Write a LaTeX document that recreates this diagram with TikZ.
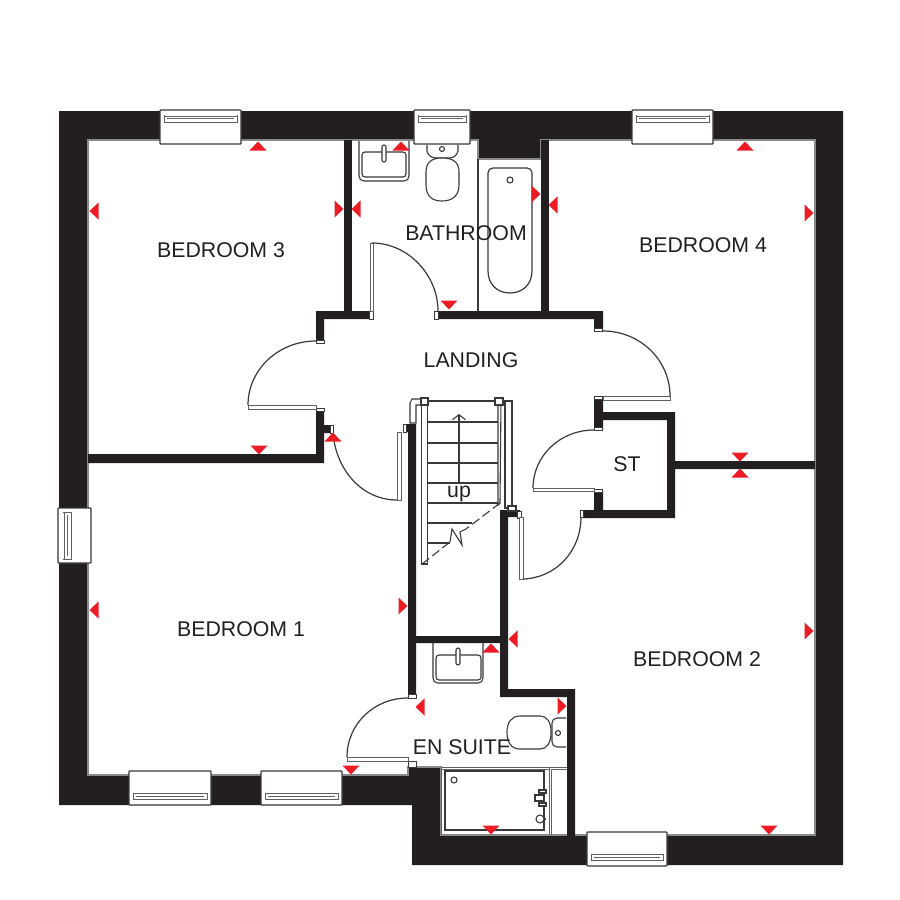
\documentclass[tikz,border=0pt]{standalone}
\usepackage{fontspec}
\setmainfont{Liberation Sans}
\usetikzlibrary{arrows.meta}
\definecolor{wallc}{HTML}{231F20}
\definecolor{redmark}{HTML}{ED1C24}
\definecolor{edgec}{HTML}{8A8A8C}
\definecolor{linec}{HTML}{3A3839}
\tikzset{
  wall/.style={fill=wallc,draw=none},
  fine/.style={draw=linec,line width=1.1pt},
  glaze/.style={draw=linec!80,line width=0.8pt,fill=white},
  thin line/.style={draw=linec,line width=1.2pt,fill=white},
  leaf/.style={draw=linec,line width=1.1pt,fill=white},
  swing/.style={draw=linec,line width=1.2pt},
  label/.style={font=\fontsize{21.3}{24}\selectfont,text=wallc,inner sep=0pt},
}
\newcommand{\triU}[2]{\fill[redmark] ({#1-8.5},{#2+4.5}) -- ({#1+8.5},{#2+4.5}) -- (#1,{#2-4.5}) -- cycle;}
\newcommand{\triD}[2]{\fill[redmark] ({#1-8.5},{#2-4.5}) -- ({#1+8.5},{#2-4.5}) -- (#1,{#2+4.5}) -- cycle;}
\newcommand{\triL}[2]{\fill[redmark] ({#1+4.5},{#2-8.5}) -- ({#1+4.5},{#2+8.5}) -- ({#1-4.5},#2) -- cycle;}
\newcommand{\triR}[2]{\fill[redmark] ({#1-4.5},{#2-8.5}) -- ({#1-4.5},{#2+8.5}) -- ({#1+4.5},#2) -- cycle;}
% horizontal window: x, width, outer y, direction (1 = inward is down, -1 = inward is up)
\newcommand{\hwin}[4]{\begin{scope}[shift={(#1,#3)},yscale=#4]
  \draw[thin line,rounded corners=0.8pt] (0,0) rectangle (#2,34);
  \draw[glaze] (4,6) rectangle ({#2-4},12);
  \draw[glaze] (7,8.6) -- ({#2-7},8.6);
  \draw[glaze] (4,12) -- (4,5) ({#2-4},12) -- ({#2-4},5);
\end{scope}}
\begin{document}
\begin{tikzpicture}[x=1pt,y=-1pt]
\useasboundingbox (0,0) rectangle (900,900);
\fill[white] (0,0) rectangle (900,900);
% shell
\fill[wall] (59,111) -- (843,111) -- (843,865) -- (412,865) -- (412,805) -- (59,805) -- cycle;
\filldraw[fill=white,draw=edgec,line width=1.4pt]
  (88,140) -- (478,140) -- (478,159) -- (541,159) -- (541,140) -- (815,140) -- (815,835)
  -- (441,835) -- (441,767) -- (408,767) -- (408,775) -- (88,775) -- cycle;
% interior walls
\fill[wall] (344,140) rectangle (352,319);
\fill[wall] (541,140) rectangle (549,319);
\fill[wall] (316,311) -- (369,311) -- (369,319) -- (324,319) -- (324,341) -- (316,341) -- cycle;
\fill[wall] (438,311) -- (603,311) -- (603,331) -- (594,331) -- (594,319) -- (438,319) -- cycle;
\fill[wall] (316,411) -- (324,411) -- (324,425) -- (333,425) -- (333,433) -- (324,433) -- (324,463)
  -- (88,463) -- (88,454) -- (316,454) -- cycle;
\fill[wall] (403,424) -- (416,424) -- (416,636) -- (500,636) -- (500,510) -- (520,510) -- (520,517)
  -- (508,517) -- (508,689) -- (575,689) -- (575,836) -- (567,836) -- (567,697) -- (500,697)
  -- (500,643) -- (416,643) -- (416,696) -- (408,696) -- (408,432) -- (403,432) -- cycle;
\fill[wall] (594,398) -- (603,398) -- (603,412) -- (675,412) -- (675,461) -- (815,461) -- (815,469)
  -- (675,469) -- (675,518) -- (583,518) -- (583,510) -- (594,510) -- (594,491) -- (603,491)
  -- (603,510) -- (667,510) -- (667,420) -- (603,420) -- (603,430) -- (594,430) -- cycle;
% door jambs
\foreach \jx/\jy/\jw/\jh in {369/311/4/8,434/311/4/8,316/340/8/3,316/408/8/3,330/425/3/8,403/424/3/8,
  594/328/8/3,594/396/8/3,594/427/8/3,594/489/8/3,517/511/4/7,580/510/3/7,408/694/8/4,408/761/8/6}
  \draw[leaf,line width=0.8pt] (\jx,\jy) rectangle ({\jx+\jw},{\jy+\jh});
% doors
\draw[glaze] (370,243) rectangle (373,311);
\draw[swing] (372,243) .. controls (408,243) and (438,275) .. (438,311);
\draw[glaze] (248,405) rectangle (316,409);
\draw[swing] (316,341) .. controls (278,341) and (248,370) .. (248,405);
\draw[glaze] (397,432) rectangle (401,500);
\draw[swing] (333,433) .. controls (336,470) and (362,500) .. (397,500);
\draw[glaze] (603,396) rectangle (670,400);
\draw[swing] (603,331) .. controls (640,331) and (670,360) .. (670,396);
\draw[glaze] (533,488) rectangle (594,491);
\draw[swing] (594,430) .. controls (560,430) and (533,456) .. (533,488);
\draw[glaze] (519,517) rectangle (523,579);
\draw[swing] (523,579) .. controls (556,578) and (581,551) .. (581,517);
\draw[glaze] (347,757) rectangle (408,761);
\draw[swing] (408,698) .. controls (374,698) and (347,724) .. (347,757);
% windows
\hwin{160}{81}{110}{1}
\hwin{414}{56}{110}{1}
\hwin{632}{81}{110}{1}
\hwin{129}{82}{805}{-1}
\hwin{261}{81}{805}{-1}
\hwin{587}{80}{866}{-1}
\begin{scope}[shift={(58,508)}]
  \draw[thin line,rounded corners=0.8pt] (0,0) rectangle (33,55);
  \draw[glaze] (6,4) rectangle (13,51);
  \draw[glaze] (9,7) -- (9,48);
  \draw[glaze] (5,4) -- (13,4) (5,51) -- (13,51);
\end{scope}
% bathroom fittings
\draw[fine] (478,159) -- (478,311);
\draw[thin line] (488,173) .. controls (488,170) and (490,168) .. (493,168) -- (527,168) .. controls (530,168) and (532,170) .. (532,173)
  -- (532,271) .. controls (532,284) and (523,293) .. (510,293) .. controls (497,293) and (488,284) .. (488,271) -- cycle;
\draw[fine,fill=white] (510,180) circle[radius=3];
\draw[fine] (359,141) -- (359,176) .. controls (359,179) and (361,181) .. (364,181) -- (404,181) .. controls (407,181) and (409,179) .. (409,176) -- (409,141);
\draw[fine,rounded corners=3pt] (362,152) -- (362,177) -- (406,177) -- (406,152) -- cycle;
\draw[fine,fill=white,rounded corners=2pt] (382,145) rectangle (386,162);
\draw[fine,fill=white] (427,145) -- (427,151) .. controls (428,155) and (431,158) .. (436,158) -- (449,158) .. controls (454,158) and (457,155) .. (458,151) -- (458,145);
\draw[fine,fill=white] (442,149) circle[radius=2.5];
\draw[fine,fill=white] (426,172) .. controls (426,162) and (432,158) .. (442,158) .. controls (453,158) and (459,162) .. (459,172)
  -- (459,185) .. controls (459,196) and (452,201) .. (442,201) .. controls (432,201) and (426,196) .. (426,185) -- cycle;
% en suite fittings
\draw[fine] (433,643) -- (433,678) .. controls (433,681) and (435,683) .. (438,683) -- (478,683) .. controls (481,683) and (483,681) .. (483,678) -- (483,643);
\draw[fine,rounded corners=3pt] (436,655) -- (436,680) -- (481,680) -- (481,655) -- cycle;
\draw[fine,fill=white,rounded corners=2pt] (456,648) rectangle (460,665);
\draw[fine,rounded corners=5pt,fill=white] (566,718) -- (552,718) -- (552,747) -- (566,747);
\draw[fine,fill=white] (558,733) circle[radius=2.5];
\draw[fine,fill=white] (520,716) -- (540,716) .. controls (547,716) and (551,722) .. (551,732) .. controls (551,743) and (547,749) .. (540,749)
  -- (520,749) .. controls (511,749) and (507,742) .. (507,732) .. controls (507,723) and (511,716) .. (520,716) -- cycle;
\draw[glaze] (441,767) -- (567,767);
\draw[glaze] (441,769) -- (549,769) (441,767) -- (441,836) (549,767) -- (549,836) (551,769) -- (551,836) (551,769) -- (567,769);
\draw[fine] (445,771) rectangle (544,830);
\draw[edgec,line width=1pt] (441,835) -- (567,835);
\draw[fine,fill=white] (454,780) circle[radius=3];
\draw[fine,fill=white] (539,790) rectangle (546,793) (539,803) rectangle (546,806);
\draw[fine,fill=white] (535,795) rectangle (544,801);
\draw[fine,fill=white] (540,819) circle[radius=4];
\draw[fine] (544,819) -- (546,819);
% stairs
\foreach \sy in {422,443,463,483,503}
  \draw[fine] (427,\sy) -- (498,\sy);
\draw[fine] (427,523) -- (472,523);
\draw[fine] (427,543) -- (450,543);
\draw[leaf] (421.5,401) rectangle (427.5,564);
\draw[fine] (427,401) -- (498,401);
\draw[leaf] (498,401) -- (501,401) -- (500,503) -- (498,505) -- cycle;
\draw[leaf] (505,401) rectangle (512,508);
\draw[fine,fill=white] (410,423) -- (410,403) -- (412,399) -- (422,399) -- (422,405) -- (416,405) -- (416,423) -- cycle;
\draw[leaf] (421,398) rectangle (428,405);
\draw[leaf] (495,398) rectangle (503,405);
\draw[leaf] (508,506) rectangle (516,511);
\draw[fine,dash pattern=on 9pt off 4pt] (422,564) -- (450,542);
\draw[fine,dash pattern=on 9pt off 4pt] (500,503) -- (466,529);
\draw[fine] (450,542) -- (452,529) -- (462,545) -- (460,532) -- (466,529);
\draw[fine,-{Straight Barb[length=5pt,width=13pt]}] (459,482) -- (459,414);
% red marks
\triU{258}{146}\triL{94}{211}\triR{339}{209}\triD{259}{450}
\triL{356}{209}\triU{401}{146}\triD{449}{305}\triR{536}{194}
\triL{553}{205}\triU{745}{146}\triR{809}{213}\triD{740}{457}
\triU{740}{473}\triR{809}{631}\triD{769}{830}\triL{513}{639}
\triL{94}{610}\triR{403}{606}\triD{351}{770}\triU{333}{437}
\triL{420}{707}\triU{491}{648}\triR{562}{706}\triD{491}{830}
% labels
\node[label] (bed3) at (221,250) {BEDROOM 3};
\node[label] (bath) at (466,233) {BATHROOM};
\node[label] (bed4) at (703,245) {BEDROOM 4};
\node[label] (land) at (471,360) {LANDING};
\node[label] (st) at (627,464) {ST};
\node[label] (up) at (459,494) {up};
\node[label] (bed1) at (241,629) {BEDROOM 1};
\node[label] (bed2) at (697,659) {BEDROOM 2};
\node[label] (ens) at (462,747) {EN SUITE};
\end{tikzpicture}
\end{document}
